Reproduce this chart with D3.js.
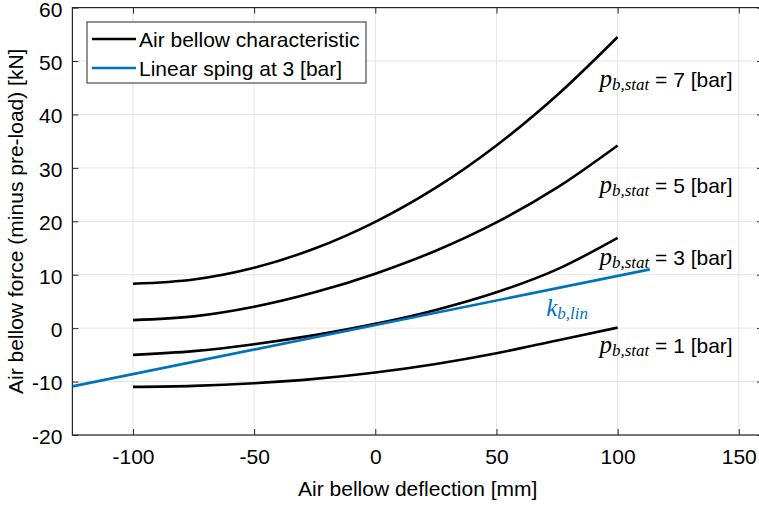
<!DOCTYPE html>
<html>
<head>
<meta charset="utf-8">
<script src="https://cdn.jsdelivr.net/npm/d3@7"></script>
<style>
  html, body { margin: 0; padding: 0; background: #fff; }
  svg { display: block; }
  text { font-family: Arial, "Liberation Sans", sans-serif; fill: #000; }
</style>
</head>
<body>
<svg id="chart" width="759" height="505"></svg>
<script>
// Deflection samples [mm]
const deflection = [-100, -75, -50, -25, 0, 25, 50, 75, 100];
// Air bellow force minus pre-load [kN] at each static pressure [bar]
const pressures = [7, 5, 3, 1];
const force7 = [8.3, 9.1, 11.3, 14.9, 19.9, 26.3, 34.2, 43.6, 54.5];
const force5 = [1.5, 2.2, 4.0, 6.7, 10.2, 14.5, 19.8, 26.3, 34.2];
const force3 = [-5.0, -4.3, -3.0, -1.3, 0.8, 3.4, 6.7, 11.0, 16.9];
const force1 = [-11.0, -10.8, -10.3, -9.5, -8.3, -6.7, -4.7, -2.3, 0.1];
// Linear spring at 3 bar
const linDeflection = [-125, 113.3];
const linForce = [-10.9, 11.0];
// Axis ticks
const xTicks = [-100, -50, 0, 50, 100, 150];
const yTicks = [-20, -10, 0, 10, 20, 30, 40, 50, 60];
const legendLabels = ["Air bellow characteristic", "Linear sping at 3 [bar]"];

const svg = d3.select("#chart");
const plot = { left: 72.4, right: 763, top: 7.6, bottom: 435 };
const x = d3.scaleLinear().domain([-125, 160]).range([plot.left, plot.right]);
const y = d3.scaleLinear().domain([-20, 60]).range([plot.bottom, plot.top]);
const blue = "#0072BD";
const axisColor = "#262626";
const fs = 21;
const fmt = d => String(d);   // plain hyphen-minus for negatives

// grid
const grid = svg.append("g");
grid.selectAll("line.gx").data(xTicks).enter().append("line")
  .attr("x1", d => x(d)).attr("x2", d => x(d))
  .attr("y1", plot.top).attr("y2", plot.bottom)
  .attr("stroke", "#e5e5e5").attr("stroke-width", 1);
grid.selectAll("line.gy").data(yTicks).enter().append("line")
  .attr("x1", plot.left).attr("x2", plot.right)
  .attr("y1", d => y(d)).attr("y2", d => y(d))
  .attr("stroke", "#e5e5e5").attr("stroke-width", 1);

// axes with inward ticks on all sides
const tickLen = 6;
const xAxisB = d3.axisBottom(x).tickValues(xTicks).tickFormat(fmt).tickSizeInner(-tickLen).tickSizeOuter(0).tickPadding(14);
const xAxisT = d3.axisTop(x).tickValues(xTicks).tickSizeInner(-tickLen).tickSizeOuter(0).tickFormat("");
const yAxisL = d3.axisLeft(y).tickValues(yTicks).tickFormat(fmt).tickSizeInner(-tickLen).tickSizeOuter(0).tickPadding(10);
const yAxisR = d3.axisRight(y).tickValues(yTicks).tickSizeInner(-tickLen).tickSizeOuter(0).tickFormat("");

function styleAxis(g) {
  g.select(".domain").remove();
  g.selectAll("line").attr("stroke", axisColor);
  g.selectAll("text").attr("font-size", fs).attr("fill", "#000")
    .attr("font-family", "Arial, 'Liberation Sans', sans-serif");
}
svg.append("g").attr("transform", `translate(0,${plot.bottom})`).call(xAxisB).call(styleAxis);
svg.append("g").attr("transform", `translate(0,${plot.top})`).call(xAxisT).call(styleAxis);
svg.append("g").attr("transform", `translate(${plot.left},0)`).call(yAxisL).call(styleAxis)
  .selectAll("text").attr("dy", "0.4em");
svg.append("g").attr("transform", `translate(${plot.right},0)`).call(yAxisR).call(styleAxis);

// frame
svg.append("rect")
  .attr("x", plot.left).attr("y", plot.top)
  .attr("width", plot.right - plot.left).attr("height", plot.bottom - plot.top)
  .attr("fill", "none").attr("stroke", axisColor).attr("stroke-width", 1.2);

// curves
svg.append("clipPath").attr("id", "clip").append("rect")
  .attr("x", plot.left).attr("y", plot.top)
  .attr("width", plot.right - plot.left).attr("height", plot.bottom - plot.top);
const layer = svg.append("g").attr("clip-path", "url(#clip)");

const line = d3.line().x(d => x(d[0])).y(d => y(d[1])).curve(d3.curveCatmullRom.alpha(0.5));
const series = [force7, force5, force3, force1];
series.forEach(vals => {
  layer.append("path")
    .datum(deflection.map((d, i) => [d, vals[i]]))
    .attr("d", line)
    .attr("fill", "none").attr("stroke", "#000").attr("stroke-width", 2.6);
});
layer.append("path")
  .datum(linDeflection.map((d, i) => [d, linForce[i]]))
  .attr("d", d3.line().x(d => x(d[0])).y(d => y(d[1])))
  .attr("fill", "none").attr("stroke", blue).attr("stroke-width", 2.6);

// pressure annotations beside the curve ends (baseline in kN units)
const annotBaseline = [45.2, 25.3, 11.9, -4.7];
series.forEach((vals, i) => {
  const t = svg.append("text")
    .attr("x", x(92.5))
    .attr("y", y(annotBaseline[i]))
    .attr("font-size", fs);
  t.append("tspan").text("p")
    .attr("font-family", "'Liberation Serif', 'DejaVu Serif', serif")
    .attr("font-style", "italic").attr("font-size", 25);
  t.append("tspan").text("b,stat")
    .attr("font-family", "'Liberation Serif', 'DejaVu Serif', serif")
    .attr("font-style", "italic").attr("font-size", 17).attr("dy", 3);
  t.append("tspan").text(" = " + pressures[i] + " [bar]").attr("dy", -3);
});

// linear spring label
const kt = svg.append("text").attr("x", x(70.5)).attr("y", y(2.3)).attr("fill", blue);
kt.append("tspan").text("k")
  .attr("font-family", "'Liberation Serif', 'DejaVu Serif', serif")
  .attr("font-style", "italic").attr("font-size", 25).attr("fill", blue);
kt.append("tspan").text("b,lin")
  .attr("font-family", "'Liberation Serif', 'DejaVu Serif', serif")
  .attr("font-style", "italic").attr("font-size", 17).attr("dy", 3).attr("fill", blue);

// axis titles
svg.append("text").attr("x", (plot.left + plot.right) / 2).attr("y", 496)
  .attr("text-anchor", "middle").attr("font-size", fs).text("Air bellow deflection [mm]");
svg.append("text")
  .attr("transform", `translate(23,${(plot.top + plot.bottom) / 2}) rotate(-90)`)
  .attr("text-anchor", "middle").attr("font-size", fs)
  .text("Air bellow force (minus pre-load) [kN]");

// legend
const lg = svg.append("g");
lg.append("rect").attr("x", 87).attr("y", 22).attr("width", 279).attr("height", 61)
  .attr("fill", "#fff").attr("stroke", axisColor).attr("stroke-width", 1);
const legendColors = ["#000", blue];
legendLabels.forEach((lab, i) => {
  const ly = 39 + i * 29;
  lg.append("line").attr("x1", 92).attr("x2", 136).attr("y1", ly).attr("y2", ly)
    .attr("stroke", legendColors[i]).attr("stroke-width", 2.6);
  lg.append("text").attr("x", 139).attr("y", ly + 7.5).attr("font-size", fs).text(lab);
});
</script>
</body>
</html>
